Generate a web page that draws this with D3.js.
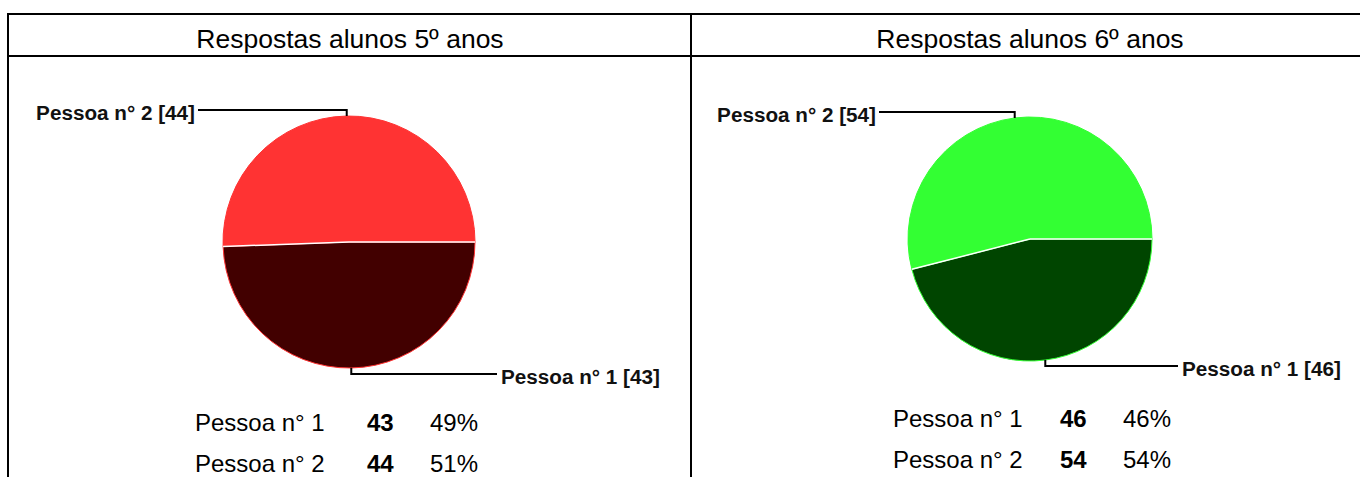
<!DOCTYPE html>
<html>
<head>
<meta charset="utf-8">
<script src="https://cdn.jsdelivr.net/npm/d3@7"></script>
<style>
  body { margin: 0; background: #fff; }
  svg { display: block; font-family: "Liberation Sans", Arial, sans-serif; }
</style>
</head>
<body>
<div id="chart"></div>
<script>
// dados
var titles = ["Respostas alunos 5º anos", "Respostas alunos 6º anos"];
var categories = ["Pessoa n° 1", "Pessoa n° 2"];
var values5 = [43, 44];
var values6 = [46, 54];
var percents5 = ["49%", "51%"];
var percents6 = ["46%", "54%"];

var width = 1360, height = 477;
var svg = d3.select("#chart").append("svg")
            .attr("width", width)
            .attr("height", height);

// tabela
var border = svg.append("g").attr("stroke", "#000").attr("stroke-width", 2);
border.append("line").attr("x1", 7).attr("x2", width).attr("y1", 14).attr("y2", 14);
border.append("line").attr("x1", 7).attr("x2", width).attr("y1", 56).attr("y2", 56);
border.append("line").attr("x1", 8).attr("x2", 8).attr("y1", 13).attr("y2", height);
border.append("line").attr("x1", 691).attr("x2", 691).attr("y1", 13).attr("y2", height);

var panels = [
  {title: titles[0], values: values5, pct: percents5, cx: 349, cy: 242, r: 126,
   colors: ["#420000", "#ff3333"], rim: "#ff3333", tx: 350,
   nameX: 195, numX: 367, pctX: 430, rowY: [431, 472]},
  {title: titles[1], values: values6, pct: percents6, cx: 1030, cy: 239, r: 122,
   colors: ["#004500", "#33ff33"], rim: "#33ff33", tx: 1030,
   nameX: 893, numX: 1060, pctX: 1123, rowY: [427, 468]}
];

var pie = d3.pie()
            .sort(null)
            .startAngle(Math.PI / 2)
            .endAngle(Math.PI / 2 + 2 * Math.PI);

panels.forEach(function (p) {
  svg.append("text")
     .text(p.title)
     .attr("x", p.tx)
     .attr("y", 48)
     .attr("text-anchor", "middle")
     .style("font-size", "26.5px")
     .attr("fill", "#000");

  var g = svg.append("g").attr("transform", "translate(" + p.cx + "," + p.cy + ")");
  var arcs = pie(p.values);
  var arc = d3.arc().innerRadius(0).outerRadius(p.r);

  g.selectAll("path")
   .data(arcs)
   .enter()
   .append("path")
   .attr("d", arc)
   .attr("fill", function (d, i) { return p.colors[i]; })
   .attr("stroke", p.rim)
   .attr("stroke-width", 1);

  // linhas brancas entre fatias
  g.selectAll("line.sep")
   .data(arcs)
   .enter()
   .append("line")
   .attr("class", "sep")
   .attr("x1", 0).attr("y1", 0)
   .attr("x2", function (d) { return p.r * Math.sin(d.startAngle); })
   .attr("y2", function (d) { return -p.r * Math.cos(d.startAngle); })
   .attr("stroke", "#fff")
   .attr("stroke-width", 1.5);

  // rótulos com linha de chamada
  arcs.forEach(function (d, i) {
    var mid = (d.startAngle + d.endAngle) / 2;
    var ax = p.r * Math.sin(mid);
    var ay = -p.r * Math.cos(mid);
    var up = ay < 0;
    var ly = up ? ay - 6 : ay + 6;
    var lx = up ? -151 : 148;
    g.append("path")
     .attr("d", "M" + ax + "," + ay + "V" + ly + "H" + lx)
     .attr("fill", "none")
     .attr("stroke", "#000")
     .attr("stroke-width", 2);
    g.append("text")
     .text(categories[i] + " [" + d.data + "]")
     .attr("x", up ? lx - 3 : lx + 4)
     .attr("y", ly + 10)
     .attr("text-anchor", up ? "end" : "start")
     .style("font-size", "20.7px")
     .style("font-weight", "bold")
     .attr("fill", "#111");
  });

  // tabela de valores
  categories.forEach(function (c, i) {
    var y = p.rowY[i];
    svg.append("text").text(c).attr("x", p.nameX).attr("y", y)
       .style("font-size", "24px").attr("fill", "#000");
    svg.append("text").text(p.values[i]).attr("x", p.numX).attr("y", y)
       .style("font-size", "24px").style("font-weight", "bold").attr("fill", "#000");
    svg.append("text").text(p.pct[i]).attr("x", p.pctX).attr("y", y)
       .style("font-size", "24px").attr("fill", "#000");
  });
});
</script>
</body>
</html>
